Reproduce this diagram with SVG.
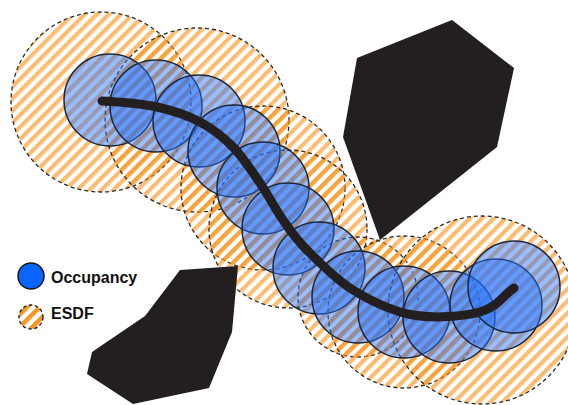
<svg xmlns="http://www.w3.org/2000/svg" width="568" height="405" viewBox="0 0 568 405">
  <style>
    .esdf { fill: url(#stripes); stroke: #2b2b2b; stroke-width: 1.3; stroke-dasharray: 4 3; }
    .occ { fill: #1f6fff; fill-opacity: 0.45; stroke: #1d2636; stroke-width: 1.5; }
    .obstacle { fill: #231f20; }
    .traj { fill: none; stroke: #231f20; stroke-width: 9; stroke-linecap: round; stroke-linejoin: round; }
    .label { font-family: "Liberation Sans", Arial, Helvetica, sans-serif; font-weight: bold; font-size: 16px; fill: #111111; }
  </style>
  <defs>
    <!-- diagonal hatching for distance-field discs; shared user-space grid so overlaps line up -->
    <pattern id="stripes" patternUnits="userSpaceOnUse" width="8.5" height="8.5" patternTransform="rotate(45)">
      <rect x="0" y="0" width="4.2" height="8.5" fill="#f7941d" fill-opacity="0.62"/>
    </pattern>
    <pattern id="stripes-key" patternUnits="userSpaceOnUse" width="9" height="9" patternTransform="rotate(45)">
      <rect x="0" y="0" width="4.5" height="9" fill="#f7941d"/>
    </pattern>
  </defs>

  <rect width="568" height="405" fill="#ffffff"/>

  <!-- ESDF clearance discs -->
  <g id="esdf">
    <g id="esdf-1"><circle class="esdf" cx="101" cy="102" r="90"/></g>
    <g id="esdf-2"><circle class="esdf" cx="197" cy="120" r="92"/></g>
    <g id="esdf-3"><circle class="esdf" cx="263" cy="188" r="82"/></g>
    <g id="esdf-4"><circle class="esdf" cx="288" cy="229" r="79"/></g>
    <g id="esdf-5"><circle class="esdf" cx="358" cy="297" r="60"/></g>
    <g id="esdf-6"><circle class="esdf" cx="404" cy="312" r="76"/></g>
    <g id="esdf-7"><circle class="esdf" cx="482" cy="310" r="94"/></g>
  </g>

  <!-- occupancy discs along the trajectory -->
  <g id="occupancy">
    <g id="occ-1"><circle class="occ" cx="110" cy="100" r="46"/></g>
    <g id="occ-2"><circle class="occ" cx="156" cy="106" r="46"/></g>
    <g id="occ-3"><circle class="occ" cx="199" cy="121" r="46"/></g>
    <g id="occ-4"><circle class="occ" cx="234" cy="151" r="46"/></g>
    <g id="occ-5"><circle class="occ" cx="263" cy="188" r="46"/></g>
    <g id="occ-6"><circle class="occ" cx="288" cy="229" r="46"/></g>
    <g id="occ-7"><circle class="occ" cx="319" cy="268" r="46"/></g>
    <g id="occ-8"><circle class="occ" cx="358" cy="297" r="46"/></g>
    <g id="occ-9"><circle class="occ" cx="404" cy="312" r="46"/></g>
    <g id="occ-10"><circle class="occ" cx="449" cy="317" r="46"/></g>
    <g id="occ-11"><circle class="occ" cx="496" cy="305" r="46"/></g>
    <g id="occ-12"><circle class="occ" cx="514" cy="287" r="46"/></g>
  </g>

  <!-- trajectory -->
  <g id="connectors">
    <path class="traj" d="M102,101 C120,102 140.7,103.5 157,107 C173.3,110.5 187.3,115.3 200,122 C212.7,128.7 223,136.8 233,147 C243,157.2 251.7,170.8 260,183 C268.3,195.2 275.2,208.8 283,220 C290.8,231.2 295.3,238.3 307,250 C318.7,261.7 335.3,279.2 353,290 C370.7,300.8 391.8,311.3 413,315 C434.2,318.7 463.2,316.5 480,312 C496.8,307.5 502.7,296 514,288"/>
  </g>

  <!-- obstacles -->
  <g id="obstacle-upper"><polygon class="obstacle" points="357,58 452,20 514,68 497,147 380,240 343,137"/></g>
  <g id="obstacle-lower"><polygon class="obstacle" points="180,270 238,266 232,332 209,388 133,404 87,374 92,352 145,316"/></g>

  <!-- legend -->
  <g id="legend-occupancy">
    <circle cx="31" cy="276" r="13" fill="#0a64ff" stroke="#1a1a1a" stroke-width="1.5"/>
    <text class="label" x="51" y="283">Occupancy</text>
  </g>
  <g id="legend-esdf">
    <circle cx="31" cy="317" r="12" fill="url(#stripes-key)" stroke="#222222" stroke-width="1.4" stroke-dasharray="3.5 2.5"/>
    <text class="label" x="51" y="319">ESDF</text>
  </g>
</svg>
